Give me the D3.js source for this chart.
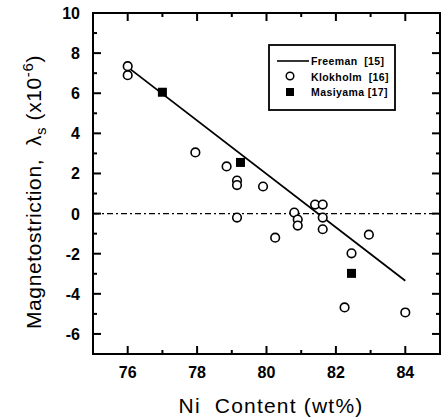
<!DOCTYPE html>
<html>
<head>
<meta charset="utf-8">
<script src="https://cdn.jsdelivr.net/npm/d3@7"></script>
<style>
  body { margin: 0; background: #fff; }
  text { font-family: Arial, "Liberation Sans", sans-serif; fill: #000; }
</style>
</head>
<body>
<svg class="chart" width="441" height="419"></svg>
<script>
// Klokholm [16] (open circles)
const klokX = [76.0, 76.0, 77.95, 78.85, 79.15, 79.15, 79.9, 79.15, 80.25, 80.8, 80.9, 80.9, 81.4, 81.62, 81.62, 81.62, 82.95, 82.45, 82.25, 84.0];
const klokY = [7.35, 6.9, 3.05, 2.35, 1.65, 1.42, 1.35, -0.2, -1.2, 0.05, -0.3, -0.6, 0.45, 0.45, -0.2, -0.78, -1.05, -1.98, -4.68, -4.93];
// Masiyama [17] (filled squares)
const masiX = [77.0, 79.25, 82.45];
const masiY = [6.05, 2.55, -2.98];
// Freeman [15] fit line
const freeX = [76, 84];
const freeY = [7.3, -3.35];

const xTicks = [76, 78, 80, 82, 84];
const yTicks = [-6, -4, -2, 0, 2, 4, 6, 8, 10];
const xMinor = [75, 77, 79, 81, 83, 85];
const yMinor = [-7, -5, -3, -1, 1, 3, 5, 7, 9];

const legendItems = ["Freeman\u00a0 [15]", "Klokholm\u00a0 [16]", "Masiyama [17]"];

let svg = d3.select('.chart');
let x = d3.scaleLinear().domain([75, 85]).range([93, 440]);
let y = d3.scaleLinear().domain([-7, 10]).range([354, 13]);

// frame
svg.append('rect')
  .attr('x', x(75)).attr('y', y(10))
  .attr('width', x(85) - x(75)).attr('height', y(-7) - y(10))
  .attr('fill', 'none').attr('stroke', '#000').attr('stroke-width', 2);

// ticks (all inward)
function ticks(vals, len, isX) {
  vals.forEach(function(v) {
    if (isX) {
      svg.append('line').attr('x1', x(v)).attr('x2', x(v)).attr('y1', y(-7)).attr('y2', y(-7) - len)
        .attr('stroke', '#000').attr('stroke-width', 2);
      svg.append('line').attr('x1', x(v)).attr('x2', x(v)).attr('y1', y(10)).attr('y2', y(10) + len)
        .attr('stroke', '#000').attr('stroke-width', 2);
    } else {
      svg.append('line').attr('y1', y(v)).attr('y2', y(v)).attr('x1', x(75)).attr('x2', x(75) + len)
        .attr('stroke', '#000').attr('stroke-width', 2);
      svg.append('line').attr('y1', y(v)).attr('y2', y(v)).attr('x1', x(85)).attr('x2', x(85) - len)
        .attr('stroke', '#000').attr('stroke-width', 2);
    }
  });
}
ticks(xTicks, 8, true);
ticks(xMinor, 4, true);
ticks(yTicks, 8, false);
ticks(yMinor, 4, false);

// tick labels
svg.selectAll('text.xl').data(xTicks).enter().append('text')
  .attr('class', 'xl')
  .attr('x', function(d) { return x(d); })
  .attr('y', 378)
  .style('font-size', '16px')
  .style('font-weight', 'bold')
  .style('text-anchor', 'middle')
  .text(function(d) { return d; });

svg.selectAll('text.yl').data(yTicks).enter().append('text')
  .attr('class', 'yl')
  .attr('x', 80)
  .attr('y', function(d) { return y(d) + 6; })
  .style('font-size', '16px')
  .style('font-weight', 'bold')
  .style('text-anchor', 'end')
  .text(function(d) { return d; });

// axis titles
svg.append('text')
  .attr('x', 271).attr('y', 413)
  .style('font-size', '21px')
  .style('letter-spacing', '1.2px')
  .style('text-anchor', 'middle')
  .text('Ni\u00a0 Content (wt%)');

let yt = svg.append('text')
  .attr('transform', 'translate(41,' + 192 + ') rotate(-90)')
  .style('font-size', '21px')
  .style('letter-spacing', '0.6px')
  .style('text-anchor', 'middle');
yt.append('tspan').text('Magnetostriction,\u00a0 \u03bb');
yt.append('tspan').attr('dy', 5).style('font-size', '15px').text('s');
yt.append('tspan').attr('dy', -5).text(' (x10');
yt.append('tspan').attr('dy', -8).style('font-size', '15px').text('-6');
yt.append('tspan').attr('dy', 8).text(')');

// zero reference line
svg.append('line')
  .attr('x1', x(75)).attr('x2', x(85)).attr('y1', y(0)).attr('y2', y(0))
  .attr('stroke', '#000').attr('stroke-width', 1.2)
  .attr('stroke-dasharray', '6,3,2,3');

// Freeman line
svg.append('path')
  .datum(d3.zip(freeX, freeY))
  .attr('fill', 'none').attr('stroke', '#000').attr('stroke-width', 1.8)
  .attr('d', d3.line().x(function(d) { return x(d[0]); }).y(function(d) { return y(d[1]); }));

// Klokholm circles
svg.selectAll('circle.k').data(d3.zip(klokX, klokY)).enter().append('circle')
  .attr('class', 'k')
  .attr('cx', function(d) { return x(d[0]); })
  .attr('cy', function(d) { return y(d[1]); })
  .attr('r', 4.3)
  .attr('fill', '#fff').attr('stroke', '#000').attr('stroke-width', 1.6);

// Masiyama squares
svg.selectAll('rect.m').data(d3.zip(masiX, masiY)).enter().append('rect')
  .attr('class', 'm')
  .attr('x', function(d) { return x(d[0]) - 4.5; })
  .attr('y', function(d) { return y(d[1]) - 4.5; })
  .attr('width', 9).attr('height', 9)
  .attr('fill', '#000');

// legend
let lg = svg.append('g');
lg.append('rect').attr('x', 269).attr('y', 45).attr('width', 126).attr('height', 65)
  .attr('fill', '#fff').attr('stroke', '#000').attr('stroke-width', 1.8);
lg.append('line').attr('x1', 277).attr('x2', 309).attr('y1', 61).attr('y2', 61)
  .attr('stroke', '#000').attr('stroke-width', 1.6);
lg.append('circle').attr('cx', 290).attr('cy', 76).attr('r', 3.8)
  .attr('fill', '#fff').attr('stroke', '#000').attr('stroke-width', 1.5);
lg.append('rect').attr('x', 286).attr('y', 88).attr('width', 8).attr('height', 8).attr('fill', '#000');
lg.selectAll('text').data(legendItems).enter().append('text')
  .attr('x', 311)
  .attr('y', function(d, i) { return 65 + i * 15.5; })
  .style('font-size', '10.5px')
  .style('font-weight', 'bold')
  .style('letter-spacing', '0.4px')
  .text(function(d) { return d; });
</script>
</body>
</html>
